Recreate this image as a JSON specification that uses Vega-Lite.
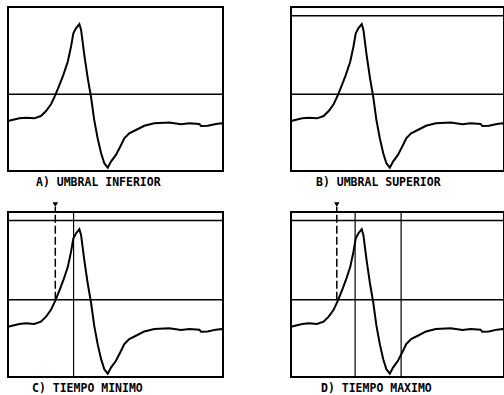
{
  "$schema": "https://vega.github.io/schema/vega-lite/v6.json",
  "background": "white",
  "padding": {"left": 3, "top": 6, "right": 0, "bottom": 0},
  "bounds": "flush",
  "columns": 2,
  "spacing": {"row": 41, "column": 68},
  "datasets": {
    "wave": [
      {"t": 0, "v": 30.5}, {"t": 1.9, "v": 31.1}, {"t": 5.3, "v": 32.1}, {"t": 8.4, "v": 32.5},
      {"t": 12.2, "v": 32.1}, {"t": 15.3, "v": 33.5}, {"t": 17.7, "v": 36.6}, {"t": 20.0, "v": 40.7},
      {"t": 22.0, "v": 46.3}, {"t": 23.9, "v": 52.4}, {"t": 25.7, "v": 58.5}, {"t": 27.8, "v": 66.6},
      {"t": 29.3, "v": 75.8}, {"t": 30.4, "v": 84.0}, {"t": 31.6, "v": 87.0}, {"t": 33.2, "v": 89.6},
      {"t": 34.0, "v": 86.0}, {"t": 35.5, "v": 70.7}, {"t": 37.1, "v": 56.5}, {"t": 38.6, "v": 45.3},
      {"t": 40.1, "v": 31.1}, {"t": 41.7, "v": 19.9}, {"t": 43.3, "v": 10.8}, {"t": 44.8, "v": 4.7},
      {"t": 46.4, "v": 2.0}, {"t": 47.9, "v": 5.7}, {"t": 50.2, "v": 9.8}, {"t": 52.6, "v": 15.9},
      {"t": 54.1, "v": 19.9}, {"t": 56.4, "v": 23.0}, {"t": 59.5, "v": 25.0}, {"t": 63.4, "v": 27.6},
      {"t": 68.0, "v": 29.1}, {"t": 75.0, "v": 29.5}, {"t": 80.5, "v": 28.5}, {"t": 84.3, "v": 29.1},
      {"t": 89.0, "v": 28.7}, {"t": 89.8, "v": 27.4}, {"t": 92.9, "v": 27.6}, {"t": 96.7, "v": 28.7},
      {"t": 99.4, "v": 29.1}, {"t": 100, "v": 29.0}
    ]
  },
  "concat": [
    {
      "width": 215, "height": 164,
      "title": {"text": "A) UMBRAL INFERIOR", "dx": 32},
      "layer": [
        {"data": {"name": "wave"}, "mark": {"type": "line", "color": "black", "strokeWidth": 2},
         "encoding": {"x": {"field": "t", "type": "quantitative", "scale": {"domain": [0, 100], "nice": false}, "axis": null},
                      "y": {"field": "v", "type": "quantitative", "scale": {"domain": [0, 100], "nice": false}, "axis": null}}},
        {"data": {"values": [{"level": 46.8}]}, "mark": {"type": "rule", "color": "black", "strokeWidth": 1.5},
         "encoding": {"y": {"field": "level", "type": "quantitative", "scale": {"domain": [0, 100], "nice": false}}}}
      ]
    },
    {
      "width": 213, "height": 164,
      "title": {"text": "B) UMBRAL SUPERIOR", "dx": 29},
      "layer": [
        {"data": {"name": "wave"}, "mark": {"type": "line", "color": "black", "strokeWidth": 2},
         "encoding": {"x": {"field": "t", "type": "quantitative", "scale": {"domain": [0, 100], "nice": false}, "axis": null},
                      "y": {"field": "v", "type": "quantitative", "scale": {"domain": [0, 100], "nice": false}, "axis": null}}},
        {"data": {"values": [{"level": 46.8}, {"level": 94.7}]}, "mark": {"type": "rule", "color": "black", "strokeWidth": 1.5},
         "encoding": {"y": {"field": "level", "type": "quantitative", "scale": {"domain": [0, 100], "nice": false}}}}
      ]
    },
    {
      "width": 215, "height": 165,
      "title": {"text": "C) TIEMPO MINIMO", "dx": 28},
      "layer": [
        {"data": {"name": "wave"}, "mark": {"type": "line", "color": "black", "strokeWidth": 2},
         "encoding": {"x": {"field": "t", "type": "quantitative", "scale": {"domain": [0, 100], "nice": false}, "axis": null},
                      "y": {"field": "v", "type": "quantitative", "scale": {"domain": [0, 100], "nice": false}, "axis": null}}},
        {"data": {"values": [{"level": 46.8}, {"level": 94.9}]}, "mark": {"type": "rule", "color": "black", "strokeWidth": 1.5},
         "encoding": {"y": {"field": "level", "type": "quantitative", "scale": {"domain": [0, 100], "nice": false}}}},
        {"data": {"values": [{"pos": 30.5, "lo": 0, "hi": 100}]}, "mark": {"type": "rule", "color": "black", "strokeWidth": 1.2},
         "encoding": {"x": {"field": "pos", "type": "quantitative", "scale": {"domain": [0, 100], "nice": false}},
                      "y": {"field": "lo", "type": "quantitative", "scale": {"domain": [0, 100], "nice": false}}, "y2": {"field": "hi"}}},
        {"data": {"values": [{"pos": 22, "lo": 46.8, "hi": 103}]}, "mark": {"type": "rule", "color": "black", "strokeWidth": 1.5, "strokeDash": [8, 3]},
         "encoding": {"x": {"field": "pos", "type": "quantitative", "scale": {"domain": [0, 100], "nice": false}},
                      "y": {"field": "lo", "type": "quantitative", "scale": {"domain": [0, 100], "nice": false}}, "y2": {"field": "hi"}}},
        {"data": {"values": [{"pos": 22, "lev": 104.5}]}, "mark": {"type": "point", "shape": "triangle-down", "filled": true, "color": "black", "size": 30, "opacity": 1},
         "encoding": {"x": {"field": "pos", "type": "quantitative", "scale": {"domain": [0, 100], "nice": false}},
                      "y": {"field": "lev", "type": "quantitative", "scale": {"domain": [0, 100], "nice": false}}}}
      ]
    },
    {
      "width": 213, "height": 165,
      "title": {"text": "D) TIEMPO MAXIMO", "dx": 34},
      "layer": [
        {"data": {"name": "wave"}, "mark": {"type": "line", "color": "black", "strokeWidth": 2},
         "encoding": {"x": {"field": "t", "type": "quantitative", "scale": {"domain": [0, 100], "nice": false}, "axis": null},
                      "y": {"field": "v", "type": "quantitative", "scale": {"domain": [0, 100], "nice": false}, "axis": null}}},
        {"data": {"values": [{"level": 46.8}, {"level": 94.9}]}, "mark": {"type": "rule", "color": "black", "strokeWidth": 1.5},
         "encoding": {"y": {"field": "level", "type": "quantitative", "scale": {"domain": [0, 100], "nice": false}}}},
        {"data": {"values": [{"pos": 30.1, "lo": 0, "hi": 100}, {"pos": 51.7, "lo": 0, "hi": 100}]}, "mark": {"type": "rule", "color": "black", "strokeWidth": 1.2},
         "encoding": {"x": {"field": "pos", "type": "quantitative", "scale": {"domain": [0, 100], "nice": false}},
                      "y": {"field": "lo", "type": "quantitative", "scale": {"domain": [0, 100], "nice": false}}, "y2": {"field": "hi"}}},
        {"data": {"values": [{"pos": 21.5, "lo": 46.8, "hi": 103}]}, "mark": {"type": "rule", "color": "black", "strokeWidth": 1.5, "strokeDash": [8, 3]},
         "encoding": {"x": {"field": "pos", "type": "quantitative", "scale": {"domain": [0, 100], "nice": false}},
                      "y": {"field": "lo", "type": "quantitative", "scale": {"domain": [0, 100], "nice": false}}, "y2": {"field": "hi"}}},
        {"data": {"values": [{"pos": 21.5, "lev": 104.5}]}, "mark": {"type": "point", "shape": "triangle-down", "filled": true, "color": "black", "size": 30, "opacity": 1},
         "encoding": {"x": {"field": "pos", "type": "quantitative", "scale": {"domain": [0, 100], "nice": false}},
                      "y": {"field": "lev", "type": "quantitative", "scale": {"domain": [0, 100], "nice": false}}}}
      ]
    }
  ],
  "config": {
    "view": {"stroke": "black", "strokeWidth": 2},
    "title": {"orient": "bottom", "anchor": "start", "offset": 5, "font": "DejaVu Sans Mono", "fontSize": 11.5, "fontWeight": "bold", "color": "black"}
  }
}
